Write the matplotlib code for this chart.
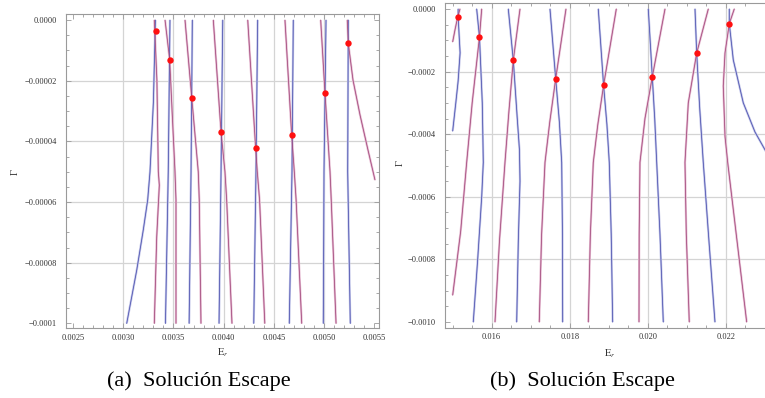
import matplotlib
matplotlib.use("Agg")
import matplotlib.pyplot as plt
from matplotlib.ticker import MultipleLocator

plt.rcParams["font.family"] = ["Liberation Serif", "DejaVu Serif"]
plt.rcParams["mathtext.fontset"] = "stix"

# ---- panel (a): contour branches ----
a_blue_x = [
    [0.00332, 0.00330, 0.003266, 0.003243, 0.003199, 0.003134, 0.003034],
    [0.003465, 0.003448, 0.003420],
    [0.003688, 0.003675, 0.003656],
    [0.003991, 0.003974, 0.003954],
    [0.004339, 0.004322, 0.004300],
    [0.004694, 0.004681, 0.004654],
    [0.005020, 0.005000, 0.004993],
    [0.005242, 0.005236, 0.005262],
]
a_blue_y = [
    [0, -0.000027, -0.00005, -0.0000593, -0.0000692, -0.0000824, -0.0001],
    [0, -0.00005, -0.0001],
    [0, -0.00005, -0.0001],
    [0, -0.00005, -0.0001],
    [0, -0.00005, -0.0001],
    [0, -0.00005, -0.0001],
    [0, -0.00005, -0.0001],
    [0, -0.00005, -0.0001],
]
a_mag_x = [
    [0.003309, 0.003335, 0.003349, 0.003359, 0.003333, 0.003309],
    [0.003416, 0.003462, 0.003515, 0.003525, 0.003525],
    [0.003615, 0.003682, 0.003747, 0.003757, 0.003774],
    [0.003897, 0.003974, 0.004013, 0.004030, 0.004083],
    [0.004240, 0.004319, 0.004335, 0.004358, 0.004410],
    [0.004611, 0.004678, 0.004704, 0.004722, 0.004778],
    [0.004967, 0.005010, 0.005060, 0.005072, 0.005120],
    [0.005232, 0.005242, 0.005289, 0.005359, 0.005438, 0.005508],
]
a_mag_y = [
    [0, -0.00002, -0.00005, -0.0000544, -0.0000715, -0.0001],
    [0, -0.000013, -0.00005, -0.0000593, -0.0001],
    [0, -0.0000256, -0.00005, -0.0000593, -0.0001],
    [0, -0.0000369, -0.00005, -0.0000593, -0.0001],
    [0, -0.0000423, -0.00005, -0.0000593, -0.0001],
    [0, -0.0000379, -0.00005, -0.0000593, -0.0001],
    [0, -0.0000242, -0.00005, -0.0000593, -0.0001],
    [0, -0.0000077, -0.0000198, -0.0000313, -0.0000428, -0.0000527],
]
a_pts_x = [0.003323, 0.003462, 0.003682, 0.003974, 0.004319, 0.004678, 0.005010, 0.005242]
a_pts_y = [-0.0000036, -0.000013, -0.0000256, -0.0000369, -0.0000423, -0.0000379, -0.0000242, -0.0000077]

a_xticks = [0.0025, 0.0030, 0.0035, 0.0040, 0.0045, 0.0050, 0.0055]
a_xlabels = ["0.0025", "0.0030", "0.0035", "0.0040", "0.0045", "0.0050", "0.0055"]
a_yticks = [0.0, -0.00002, -0.00004, -0.00006, -0.00008, -0.0001]
a_ylabels = ["0.0000", "\u22120.00002", "\u22120.00004", "\u22120.00006", "\u22120.00008", "\u22120.0001"]

# ---- panel (b) ----
b_blue_x = [
    [0.01514, 0.01514, 0.01519, 0.01514, 0.01508, 0.01500],
    [0.015615, 0.015687, 0.015759, 0.015785, 0.015744, 0.015641, 0.015528],
    [0.016426, 0.016554, 0.016656, 0.016712, 0.016726, 0.016683, 0.016641],
    [0.017495, 0.017641, 0.017735, 0.017795, 0.017815, 0.017820],
    [0.018733, 0.018869, 0.018955, 0.019015, 0.019065, 0.019102],
    [0.020015, 0.020118, 0.020180, 0.020231, 0.020315, 0.020400],
    [0.021213, 0.021256, 0.021335, 0.021425, 0.021570, 0.021725],
    [0.022092, 0.022092, 0.022195, 0.022451, 0.022751, 0.023008, 0.02325],
]
b_blue_y = [
    [0, -0.000026, -0.00014, -0.00023, -0.0003, -0.00039],
    [0, -0.0000895, -0.0003, -0.00049, -0.0006, -0.0008, -0.001],
    [0, -0.000164, -0.00035, -0.00045, -0.00055, -0.00074, -0.001],
    [0, -0.000223, -0.00036, -0.00049, -0.00072, -0.001],
    [0, -0.000244, -0.00037, -0.00049, -0.00072, -0.001],
    [0, -0.000217, -0.00035, -0.00049, -0.00072, -0.001],
    [0, -0.000141, -0.00032, -0.00049, -0.00074, -0.001],
    [0, -0.000047, -0.000163, -0.0003, -0.000393, -0.00045, -0.0005],
]
b_mag_x = [
    [0.015187, 0.015128, 0.015059, 0.015],
    [0.015744, 0.015687, 0.015500, 0.015359, 0.015205, 0.015],
    [0.016726, 0.016554, 0.016440, 0.016341, 0.016200, 0.016085],
    [0.017905, 0.017641, 0.017490, 0.017367, 0.017280, 0.017220],
    [0.019195, 0.018869, 0.018720, 0.018605, 0.018530, 0.018477],
    [0.020444, 0.020118, 0.019930, 0.019802, 0.019782, 0.019777],
    [0.021554, 0.021256, 0.021041, 0.020956, 0.020990, 0.021066],
    [0.022220, 0.022092, 0.021982, 0.021938, 0.021982, 0.022051, 0.022538],
]
b_mag_y = [
    [0, -0.000026, -0.000067, -0.000105],
    [0, -0.0000895, -0.0003, -0.00049, -0.00071, -0.000914],
    [0, -0.000164, -0.00033, -0.00049, -0.00074, -0.001],
    [0, -0.000223, -0.00036, -0.00049, -0.00072, -0.001],
    [0, -0.000244, -0.00037, -0.00049, -0.00072, -0.001],
    [0, -0.000217, -0.00035, -0.00049, -0.00072, -0.001],
    [0, -0.000141, -0.0003, -0.00049, -0.00072, -0.001],
    [0, -0.000047, -0.000141, -0.000246, -0.000406, -0.00049, -0.001],
]
b_pts_x = [0.015144, 0.015687, 0.016554, 0.017641, 0.018869, 0.020118, 0.021256, 0.022092]
b_pts_y = [-0.000026, -0.0000895, -0.000164, -0.000223, -0.000244, -0.000217, -0.000141, -0.000047]

b_xticks = [0.016, 0.018, 0.020, 0.022]
b_xlabels = ["0.016", "0.018", "0.020", "0.022"]
b_yticks = [0.0, -0.0002, -0.0004, -0.0006, -0.0008, -0.0010]
b_ylabels = ["0.0000", "\u22120.0002", "\u22120.0004", "\u22120.0006", "\u22120.0008", "\u22120.0010"]

captions = ["(a)  Soluci\u00f3n Escape", "(b)  Soluci\u00f3n Escape"]

BLUE_DARK, BLUE_PALE = "#4a4fae", "#c2c5e8"
MAG_DARK, MAG_PALE = "#a0467a", "#e6bcd2"
GRID = "#d4d4d4"
FRAME = "#9a9a9a"


def draw_panel(ax, bx, by, mx, my, px, py, xticks, xlabels, yticks, ylabels,
               xminor, yminor, vgrid, hgrid):
    for g in vgrid:
        ax.axvline(g, color=GRID, lw=0.9, zorder=0)
    for g in hgrid:
        ax.axhline(g, color=GRID, lw=0.9, zorder=0)
    for xs, ys in zip(bx, by):
        ax.plot(xs, ys, color=BLUE_PALE, lw=1.6, solid_capstyle="butt", zorder=1)
        ax.plot(xs, ys, color=BLUE_DARK, lw=0.55, zorder=2)
    for xs, ys in zip(mx, my):
        ax.plot(xs, ys, color=MAG_PALE, lw=1.6, solid_capstyle="butt", zorder=1)
        ax.plot(xs, ys, color=MAG_DARK, lw=0.55, zorder=2)
    ax.plot(px, py, "o", color="#ff1010", ms=4.6, mec="none", zorder=3)

    ax.set_xticks(xticks, labels=xlabels)
    ax.set_yticks(yticks, labels=ylabels)
    ax.xaxis.set_minor_locator(MultipleLocator(xminor))
    ax.yaxis.set_minor_locator(MultipleLocator(yminor))
    ax.tick_params(which="both", direction="in", top=True, right=True,
                   color=FRAME, width=0.6, labelsize=6, labelcolor="#333333")
    ax.tick_params(which="major", length=3.5)
    ax.tick_params(which="minor", length=2.0)
    ax.tick_params(axis="y", pad=6.5)
    ax.tick_params(axis="x", pad=4)
    for sp in ax.spines.values():
        sp.set_color(FRAME)
        sp.set_linewidth(0.8)


fig = plt.figure(figsize=(7.65, 3.98), dpi=100)
W, H = 765.0, 398.0

ax_a = fig.add_axes([66 / W, 1 - 328 / H, (378.5 - 66) / W, (328 - 14.3) / H])
draw_panel(ax_a, a_blue_x, a_blue_y, a_mag_x, a_mag_y, a_pts_x, a_pts_y,
           a_xticks, a_xlabels, a_yticks, a_ylabels, 0.0001, 0.000005,
           [0.0030, 0.0035, 0.0040, 0.0045, 0.0050],
           [-0.00002, -0.00004, -0.00006, -0.00008])
ax_a.set_xlim(0.002429, 0.005543)
ax_a.set_ylim(-0.0001015, 0.0000019)

ax_b = fig.add_axes([445 / W, 1 - 327.7 / H, (775 - 445) / W, (327.7 - 2.7) / H])
draw_panel(ax_b, b_blue_x, b_blue_y, b_mag_x, b_mag_y, b_pts_x, b_pts_y,
           b_xticks, b_xlabels, b_yticks, b_ylabels, 0.0005, 0.00005,
           [0.016, 0.018, 0.020, 0.022],
           [-0.0002, -0.0004, -0.0006, -0.0008])
ax_b.set_xlim(0.014803, 0.023264)
ax_b.set_ylim(-0.001018, 0.00002)

# axis names
fig.text(15 / W, 1 - 172 / H, "\u0393", rotation=90, fontsize=7.5,
         color="#333333", ha="center", va="center")
fig.text(400 / W, 1 - 163 / H, "\u0393", rotation=90, fontsize=7.5,
         color="#333333", ha="center", va="center")
fig.text(223 / W, 1 - 353 / H, r"$\mathrm{E}_r$", fontsize=7.5,
         color="#333333", ha="center", va="center")
fig.text(610 / W, 1 - 354 / H, r"$\mathrm{E}_r$", fontsize=7.5,
         color="#333333", ha="center", va="center")

fig.text(198.5 / W, 1 - 381 / H, captions[0], fontsize=16, ha="center", va="center")
fig.text(582.5 / W, 1 - 381 / H, captions[1], fontsize=16, ha="center", va="center")

fig.savefig("out.png", dpi=100)
